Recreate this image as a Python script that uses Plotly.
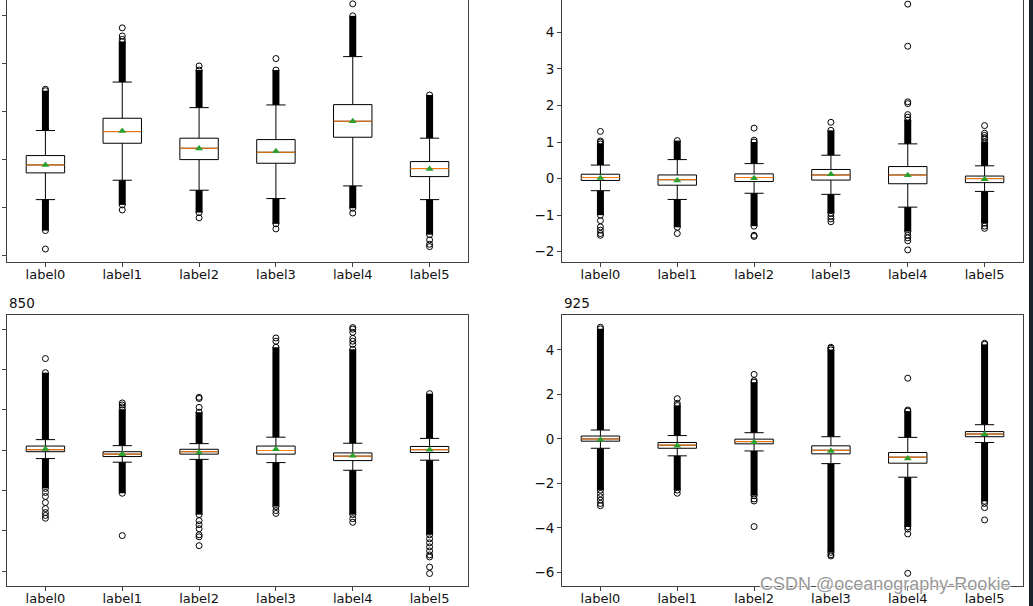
import plotly.graph_objects as go

labels = ["label0", "label1", "label2", "label3", "label4", "label5"]
positions = [0, 1, 2, 3, 4, 5]

# ---- panel top-left (no visible title / tick labels) ----
tl_q1 = [-0.283, 0.335, -0.006, -0.082, 0.46, -0.36]
tl_med = [-0.117, 0.578, 0.23, 0.147, 0.793, -0.193]
tl_q3 = [0.078, 0.856, 0.44, 0.411, 1.14, -0.047]
tl_mean = [-0.12, 0.592, 0.224, 0.168, 0.793, -0.2]
tl_lo = [-0.84, -0.436, -0.644, -0.818, -0.554, -0.84]
tl_hi = [0.60, 1.61, 1.077, 1.133, 2.14, 0.44]
tl_dense_lo = [-1.485, -0.95, -1.11, -1.345, -1.02, -1.57]
tl_dense_hi = [1.43, 2.45, 1.86, 1.86, 2.99, 1.34]
tl_out = [[-1.87, 1.46], [2.5, 2.57, 2.74, -1.055], [1.945, -1.22],
          [2.1, -1.45], [3.24, -1.12], [-1.68, -1.77, -1.82]]

# ---- panel top-right ----
tr_q1 = [-0.05, -0.18, -0.08, -0.04, -0.14, -0.11]
tr_med = [0.03, -0.03, 0.03, 0.10, 0.10, 0.0]
tr_q3 = [0.12, 0.10, 0.13, 0.25, 0.33, 0.07]
tr_mean = [0.02, -0.05, 0.01, 0.12, 0.09, -0.02]
tr_lo = [-0.33, -0.57, -0.40, -0.43, -0.78, -0.35]
tr_hi = [0.37, 0.52, 0.41, 0.64, 0.95, 0.35]
tr_dense_lo = [-1.0, -1.33, -1.3, -0.95, -1.45, -1.22]
tr_dense_hi = [0.95, 1.04, 1.0, 1.32, 1.6, 1.0]
tr_out = [[1.0, 1.03, 1.29, -1.15, -1.32, -1.41, -1.5, -1.55],
          [-1.5],
          [1.05, 1.38, -1.55, -1.58],
          [1.54, -1.03, -1.1, -1.18],
          [1.68, 1.75, 2.05, 2.1, 3.62, 4.77, -1.55, -1.62, -1.7, -1.95],
          [1.08, 1.12, 1.18, 1.24, 1.45, -1.3, -1.36]]

# ---- panel bottom-left "850" ----
bl_q1 = [-0.04, -0.16, -0.10, -0.10, -0.26, -0.06]
bl_med = [0.01, -0.10, -0.04, -0.01, -0.15, 0.01]
bl_q3 = [0.10, -0.04, 0.02, 0.10, -0.07, 0.09]
bl_mean = [0.03, -0.10, -0.06, 0.02, -0.14, 0.01]
bl_lo = [-0.21, -0.30, -0.23, -0.31, -0.50, -0.25]
bl_hi = [0.26, 0.11, 0.16, 0.32, 0.17, 0.29]
bl_dense_lo = [-0.95, -1.07, -1.6, -1.4, -1.6, -2.1]
bl_dense_hi = [1.92, 1.0, 0.94, 2.55, 2.5, 1.4]
bl_out = [[2.27, -1.05, -1.15, -1.3, -1.45, -1.55, -1.62, -1.69],
          [1.07, 1.12, 1.17, -2.12],
          [1.06, 1.28, 1.31, -1.75, -1.85, -1.95, -2.1, -2.15, -2.37],
          [2.7, 2.78, -1.5, -1.57],
          [2.62, 2.7, 2.77, 2.92, 3.0, 3.04, -1.7, -1.79],
          [-2.2, -2.3, -2.4, -2.5, -2.6, -2.65, -2.9, -3.06]]

# ---- panel bottom-right "925" ----
br_q1 = [-0.10, -0.42, -0.22, -0.67, -1.09, 0.10]
br_med = [0.0, -0.28, -0.12, -0.51, -0.82, 0.22]
br_q3 = [0.13, -0.16, -0.01, -0.31, -0.61, 0.33]
br_mean = [-0.04, -0.31, -0.15, -0.54, -0.88, 0.21]
br_lo = [-0.42, -0.76, -0.54, -1.11, -1.72, -0.16]
br_hi = [0.40, 0.15, 0.28, 0.10, 0.07, 0.64]
br_dense_lo = [-2.3, -2.3, -2.55, -5.1, -3.95, -2.8]
br_dense_hi = [4.95, 1.5, 2.55, 4.0, 1.25, 4.25]
br_out = [[5.02, -2.45, -2.6, -2.75, -2.9, -3.0],
          [1.6, 1.81, -2.44],
          [2.62, 2.9, -2.7, -2.79, -3.94],
          [4.07, 4.12, -5.2, -5.26],
          [1.3, 2.73, -4.05, -4.27, -6.04],
          [4.3, -2.9, -3.09, -3.64]]

titles = ["", "", "850", "925"]

W, H = 1033, 606
FONT = "DejaVu Sans"
TXT = "#111111"
FRAME = "#404040"

panels = [
    dict(q1=tl_q1, med=tl_med, q3=tl_q3, mean=tl_mean, lo=tl_lo, hi=tl_hi,
         dlo=tl_dense_lo, dhi=tl_dense_hi, out=tl_out,
         xd=[7, 468], yd=[0, 262], yr=[-2.14, 3.32], tv=[-2, -1, 0, 1, 2, 3],
         labels=False, top=False),
    dict(q1=tr_q1, med=tr_med, q3=tr_q3, mean=tr_mean, lo=tr_lo, hi=tr_hi,
         dlo=tr_dense_lo, dhi=tr_dense_hi, out=tr_out,
         xd=[562, 1023], yd=[0, 262], yr=[-2.28, 4.884], tv=[-2, -1, 0, 1, 2, 3, 4],
         labels=True, top=False),
    dict(q1=bl_q1, med=bl_med, q3=bl_q3, mean=bl_mean, lo=bl_lo, hi=bl_hi,
         dlo=bl_dense_lo, dhi=bl_dense_hi, out=bl_out,
         xd=[7, 468], yd=[315, 586], yr=[-3.37, 3.35], tv=[-3, -2, -1, 0, 1, 2, 3],
         labels=False, top=True),
    dict(q1=br_q1, med=br_med, q3=br_q3, mean=br_mean, lo=br_lo, hi=br_hi,
         dlo=br_dense_lo, dhi=br_dense_hi, out=br_out,
         xd=[562, 1023], yd=[315, 586], yr=[-6.61, 5.57], tv=[-6, -4, -2, 0, 2, 4],
         labels=True, top=True),
]

fig = go.Figure()
layout = {}
annotations = []
HALF = 0.25

for k, p in enumerate(panels):
    sfx = "" if k == 0 else str(k + 1)
    xa, ya = "x" + sfx, "y" + sfx

    # dense flier columns (overlapping circles render as a solid black column)
    dx, dy = [], []
    for i, pos in enumerate(positions):
        dx += [pos, pos, None, pos, pos, None]
        dy += [p["hi"][i], p["dhi"][i], None, p["lo"][i], p["dlo"][i], None]
    fig.add_trace(go.Scatter(x=dx, y=dy, mode="lines", xaxis=xa, yaxis=ya,
                             line=dict(color="black", width=7), hoverinfo="skip",
                             showlegend=False))
    # individual fliers
    ox, oy = [], []
    for i, pos in enumerate(positions):
        vals = [p["dhi"][i], p["dlo"][i]] + p["out"][i]
        ox += [pos] * len(vals)
        oy += vals
    fig.add_trace(go.Scatter(x=ox, y=oy, mode="markers", xaxis=xa, yaxis=ya,
                             marker=dict(symbol="circle-open", size=6, color="black",
                                         line=dict(width=1, color="black")),
                             hoverinfo="skip", showlegend=False))
    # boxes
    fig.add_trace(go.Box(x=positions, q1=p["q1"], median=p["med"], q3=p["q3"],
                         lowerfence=p["lo"], upperfence=p["hi"],
                         xaxis=xa, yaxis=ya, width=0.5, whiskerwidth=0.5,
                         boxpoints=False, fillcolor="rgba(255,255,255,1)",
                         line=dict(color="black", width=1), showlegend=False))
    # medians (orange)
    mx, my = [], []
    for i, pos in enumerate(positions):
        mx += [pos - HALF, pos + HALF, None]
        my += [p["med"][i], p["med"][i], None]
    fig.add_trace(go.Scatter(x=mx, y=my, mode="lines", xaxis=xa, yaxis=ya,
                             line=dict(color="#ff7f0e", width=1), hoverinfo="skip",
                             showlegend=False))
    # means (green triangles)
    fig.add_trace(go.Scatter(x=positions, y=p["mean"], mode="markers", xaxis=xa, yaxis=ya,
                             marker=dict(symbol="triangle-up", size=7, color="#2ca02c"),
                             hoverinfo="skip", showlegend=False))

    layout["xaxis" + sfx] = dict(
        domain=[p["xd"][0] / W, p["xd"][1] / W], anchor=ya, range=[-0.5, 5.5],
        tickmode="array", tickvals=positions, ticktext=labels,
        ticks="outside", ticklen=4, tickwidth=1, tickcolor=FRAME,
        showline=True, linecolor=FRAME, linewidth=1, mirror=p["top"],
        showgrid=False, zeroline=False, ticklabelstandoff=-4, automargin=False,
        tickfont=dict(family=FONT, size=13, color=TXT))
    layout["yaxis" + sfx] = dict(
        domain=[1 - p["yd"][1] / H, 1 - p["yd"][0] / H], anchor=xa, range=p["yr"],
        tickmode="array", tickvals=p["tv"], showticklabels=p["labels"],
        ticks="outside", ticklen=4, tickwidth=1, tickcolor=FRAME,
        showline=True, linecolor=FRAME, linewidth=1, mirror=True,
        showgrid=False, zeroline=False, automargin=False,
        tickfont=dict(family=FONT, size=13.5, color=TXT))
    if titles[k]:
        annotations.append(dict(text=titles[k], xref="paper", yref="paper",
                                x=p["xd"][0] / W, y=1 - 303 / H, xanchor="left",
                                yanchor="middle", showarrow=False,
                                font=dict(family=FONT, size=13.5, color=TXT)))

annotations.append(dict(text="CSDN @oceanography-Rookie", xref="paper", yref="paper",
                        x=758 / W, y=1 - 584 / H, xanchor="left", yanchor="middle",
                        showarrow=False,
                        font=dict(family="Liberation Sans", size=18,
                                  color="rgba(140,140,140,0.9)",
                                  shadow="1px 1px 1px white, -1px -1px 1px white, 1px -1px 1px white, -1px 1px 1px white")))

fig.update_layout(width=W, height=H, margin=dict(l=0, r=0, t=0, b=0, autoexpand=False),
                  paper_bgcolor="white", plot_bgcolor="white",
                  annotations=annotations, showlegend=False,
                  shapes=[dict(type="rect", xref="paper", yref="paper",
                               x0=1029 / W, x1=1, y0=0, y1=1,
                               fillcolor="#17212b", line=dict(width=0), layer="above")],
                  **layout)
fig.write_html("out.html", config={"displayModeBar": False},
               post_script="document.body.style.margin='0';document.body.style.overflow='hidden';")
